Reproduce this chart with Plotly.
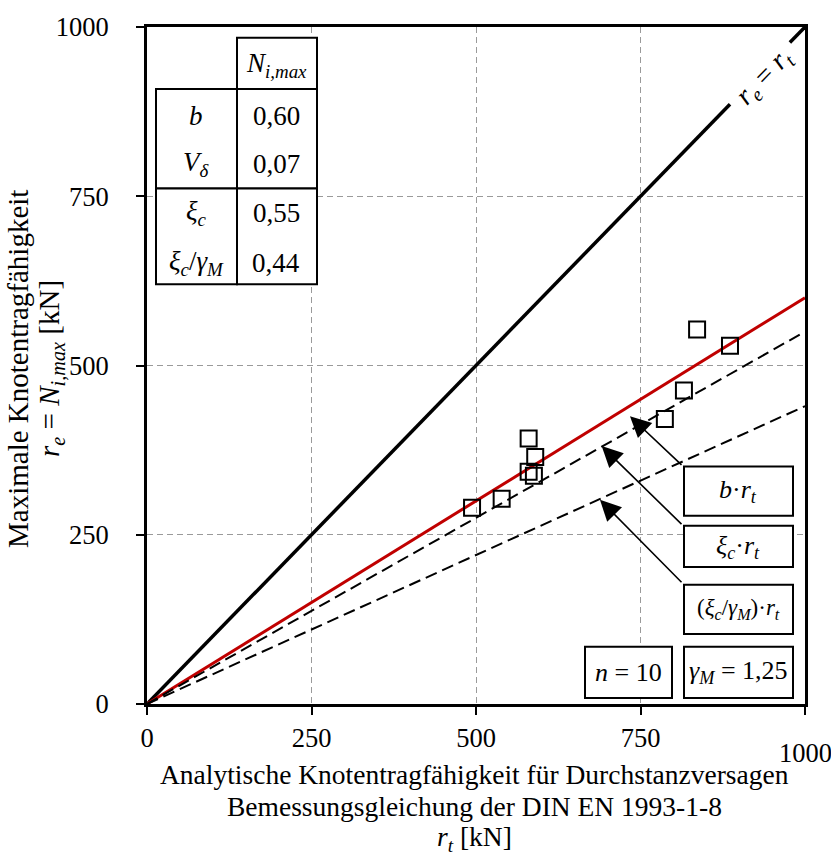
import plotly.graph_objects as go

# Versuchsdaten: analytische vs. maximale Knotentragfähigkeit [kN]
r_t = [494, 539, 580, 590, 580, 588, 787, 816, 836, 886]
r_e = [290, 303, 392, 365, 343, 337, 421, 463, 553, 529]

# Kennwerte der statistischen Auswertung
b_mean = 0.60
xi_c = 0.55
xi_c_gamma = 0.44
table_rows = [
    ("<i>b</i>", "0,60"),
    ("<i>V<sub>δ</sub></i>", "0,07"),
    ("<i>ξ<sub>c</sub></i>", "0,55"),
    ("<i>ξ<sub>c</sub></i>/<i>γ<sub>M</sub></i>", "0,44"),
]

tick_vals = [0, 250, 500, 750, 1000]
x_tick_text = ["0", "250", "500", "750", ""]
y_tick_text = ["0", "250", "500", "750", "1000"]
line_x = [0, 1000]

# Lücke in der Winkelhalbierenden für die Beschriftung
diag_gap = (886, 977)

FONT = "Liberation Serif"
FS = 26.5

W, H = 831, 852
L, R, T, B = 147, 26, 17, 148
PW, PH = W - L - R, H - T - B


def px(x):
    return (x - L) / PW


def py(y):
    return (H - B - y) / PH


fig = go.Figure()

# r_e = r_t
fig.add_trace(go.Scatter(
    x=[line_x[0], diag_gap[0], None, diag_gap[1], line_x[1]],
    y=[line_x[0], diag_gap[0], None, diag_gap[1], line_x[1]],
    mode="lines", line=dict(color="black", width=3.5), hoverinfo="skip"))

# Mittelwert b·r_t
fig.add_trace(go.Scatter(
    x=line_x, y=[b_mean * v for v in line_x],
    mode="lines", line=dict(color="#c00000", width=3), hoverinfo="skip"))

# ξ_c·r_t und (ξ_c/γ_M)·r_t
for k in (xi_c, xi_c_gamma):
    fig.add_trace(go.Scatter(
        x=line_x, y=[k * v for v in line_x],
        mode="lines", line=dict(color="black", width=2, dash="12px,6px"),
        hoverinfo="skip"))

# Versuchswerte
fig.add_trace(go.Scatter(
    x=r_t, y=r_e, mode="markers",
    marker=dict(symbol="square-open", size=16, color="black",
                line=dict(width=2, color="black")),
    hoverinfo="skip"))

shapes = []
annotations = []


def box(x0, y0, x1, y1):
    shapes.append(dict(type="rect", xref="paper", yref="paper",
                       x0=px(x0), x1=px(x1), y0=py(y1), y1=py(y0),
                       line=dict(color="black", width=2),
                       fillcolor="white", layer="above"))


def text(xc, yc, s, size=FS, **kw):
    annotations.append(dict(xref="paper", yref="paper", x=px(xc), y=py(yc),
                            xanchor="center", yanchor="middle", text=s,
                            showarrow=False,
                            font=dict(family=FONT, size=size, color="black"),
                            **kw))


# Tabelle
box(237, 28, 317, 80)
box(156, 80, 237, 181)
box(237, 80, 317, 181)
box(156, 181, 237, 278)
box(237, 181, 317, 278)
text(276, 56, "<i>N<sub>i,max</sub></i>", size=27)
row_y = [107, 156, 206, 256]
for (lab, val), yc in zip(table_rows, row_y):
    text(196, yc, lab, size=27)
    text(276, yc, val, size=27)

# Beschriftungskästen
box(684, 463, 793, 513)
box(684, 523, 793, 565)
box(684, 583, 793, 633)
box(585, 646, 672, 698)
box(684, 646, 793, 698)
text(738, 488, "<i>b</i>·<i>r<sub>t</sub></i>", size=26)
text(738, 545, "<i>ξ<sub>c</sub></i>·<i>r<sub>t</sub></i>", size=26)
text(738, 608, "(<i>ξ<sub>c</sub></i>/<i>γ<sub>M</sub></i>)·<i>r<sub>t</sub></i>", size=23)
text(628, 672, "<i>n</i> = 10", size=26)
text(738, 672, "<i>γ<sub>M</sub></i> = 1,25", size=26)

# Pfeile von den Kästen zu den Geraden
arrows = [((734, 425), (814.6, 351)),
          ((691, 381), (814.6, 263.5)),
          ((688.4, 301.7), (814.6, 177.6))]
for (tx, ty), (ax, ay) in arrows:
    annotations.append(dict(x=tx, y=ty, ax=ax, ay=ay, xref="x", yref="y",
                            axref="x", ayref="y", text="", showarrow=True,
                            arrowhead=2, arrowsize=2.6, arrowwidth=1.6,
                            arrowcolor="black", standoff=0))

# Beschriftung der Winkelhalbierenden
text(764, 68, "<i>r<sub>e</sub></i> = <i>r<sub>t</sub></i>", size=28, textangle=-46)

# Tick-Beschriftung 1000 der x-Achse (tiefer gesetzt)
annotations.append(dict(xref="x", yref="paper", x=1000, y=0, yshift=-49,
                        xanchor="center", yanchor="middle", text="1000",
                        showarrow=False,
                        font=dict(family=FONT, size=FS, color="black")))

# Achsentitel
x_title = ["Analytische Knotentragfähigkeit für Durchstanzversagen",
           "Bemessungsgleichung der DIN EN 1993-1-8",
           "<i>r<sub>t</sub></i> [kN]"]
for i, s in enumerate(x_title):
    text(474, 776 + 32 * i, s, size=27.5)
y_title = [("Maximale Knotentragfähigkeit", 18),
           ("<i>r<sub>e</sub></i> = <i>N<sub>i,max</sub></i> [kN]", 51)]
for s, xc in y_title:
    text(xc, 364, s, size=29, textangle=-90)

axis_common = dict(
    range=[0, 1000], tickvals=tick_vals, showline=True, linewidth=3,
    linecolor="black", mirror=True, ticks="outside", ticklen=8, tickwidth=2,
    tickcolor="black", showgrid=True, gridcolor="#9a9a9a", gridwidth=1,
    griddash="6px,4px", zeroline=False,
    tickfont=dict(family=FONT, size=FS, color="black"),
)

fig.update_layout(
    width=W, height=H,
    margin=dict(l=L, r=R, t=T, b=B),
    paper_bgcolor="white", plot_bgcolor="white",
    showlegend=False,
    xaxis=dict(**axis_common, ticktext=x_tick_text, ticklabelstandoff=0),
    yaxis=dict(**axis_common, ticktext=y_tick_text, ticklabelstandoff=22),
    shapes=shapes, annotations=annotations,
)

fig.write_html("out.html")
